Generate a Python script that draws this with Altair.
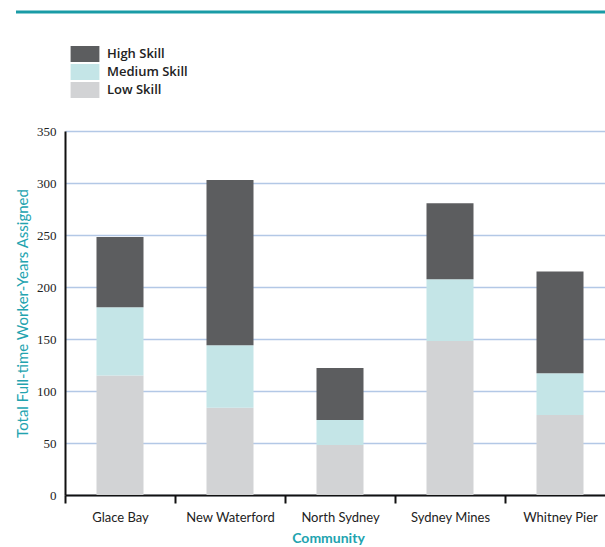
import altair as alt
import pandas as pd

# Worker-years by community, split by skill level
communities = ["Glace Bay", "New Waterford", "North Sydney", "Sydney Mines", "Whitney Pier"]
low_skill = [115, 84, 48, 148, 77]
medium_skill = [65.5, 60, 24, 59.5, 40]
high_skill = [67.5, 159, 50, 73, 98]

levels = ["High Skill", "Medium Skill", "Low Skill"]
level_colors = ["#5c5d5f", "#c4e5e7", "#d2d3d5"]
stack_rank = {"Low Skill": 0, "Medium Skill": 1, "High Skill": 2}

rows = []
for i, c in enumerate(communities):
    for lvl, vals in (("Low Skill", low_skill), ("Medium Skill", medium_skill), ("High Skill", high_skill)):
        rows.append({"Community": c, "Level": lvl, "Years": vals[i], "rank": stack_rank[lvl]})
df = pd.DataFrame(rows)

TEAL = "#22a3af"

bars = alt.Chart(df).mark_bar(size=47).encode(
    x=alt.X(
        "Community:N",
        sort=communities,
        scale=alt.Scale(range=[0, 550], paddingInner=0, paddingOuter=0),
        axis=alt.Axis(
            title="Community",
            titleColor=TEAL,
            titleFont="Lato",
            titleFontSize=14,
            titleFontWeight="bold",
            titleX=263,
            titleY=43,
            titleBaseline="middle",
            labelAngle=0,
            labelFont="Lato",
            labelFontSize=13,
            labelColor="#222222",
            labelPadding=8,
            tickBand="extent",
            tickSize=8,
            tickWidth=2,
            tickColor="#111111",
            domainColor="#111111",
            domainWidth=2,
            grid=False,
        ),
    ),
    y=alt.Y(
        "sum(Years):Q",
        stack="zero",
        scale=alt.Scale(domain=[0, 350], nice=False),
        axis=alt.Axis(
            title="Total Full-time Worker-Years Assigned",
            titleColor=TEAL,
            titleFont="Lato",
            titleFontSize=15,
            titleFontWeight="normal",
            titleX=-43,
            titleBaseline="middle",
            values=[0, 50, 100, 150, 200, 250, 300, 350],
            labelFont="Liberation Sans Narrow",
            labelFontSize=13,
            labelColor="#222222",
            labelPadding=9,
            ticks=False,
            tickSize=0,
            domainColor="#111111",
            domainWidth=2,
            grid=True,
            gridColor="#b3c8e6",
            gridWidth=1.5,
        ),
    ),
    color=alt.Color(
        "Level:N",
        scale=alt.Scale(domain=levels, range=level_colors),
        legend=alt.Legend(
            title=None,
            orient="none",
            legendX=12,
            legendY=-85,
            symbolType="M-1.8,-1H1.8V1H-1.8Z",
            symbolSize=256,
            symbolStrokeWidth=0,
            labelFont="Open Sans",
            labelFontSize=13,
            labelFontWeight=600,
            labelColor="#222222",
            labelOffset=14,
            rowPadding=2,
        ),
    ),
    order=alt.Order("rank:Q"),
)

# Teal banner rule across the top
banner = alt.Chart(alt.Data(values=[{}])).mark_rule(color="#1a9ba6", strokeWidth=3).encode(
    x=alt.value(-49), x2=alt.value(540), y=alt.value(-119)
)

chart = alt.layer(banner, bars).properties(
    width=540,
    height=364,
    autosize=alt.AutoSizeParams(type="none"),
    padding={"left": 65, "top": 131, "right": 0, "bottom": 52},
).configure_view(stroke=None)

chart.save("out.html", embed_options={"renderer": "svg", "actions": False})
